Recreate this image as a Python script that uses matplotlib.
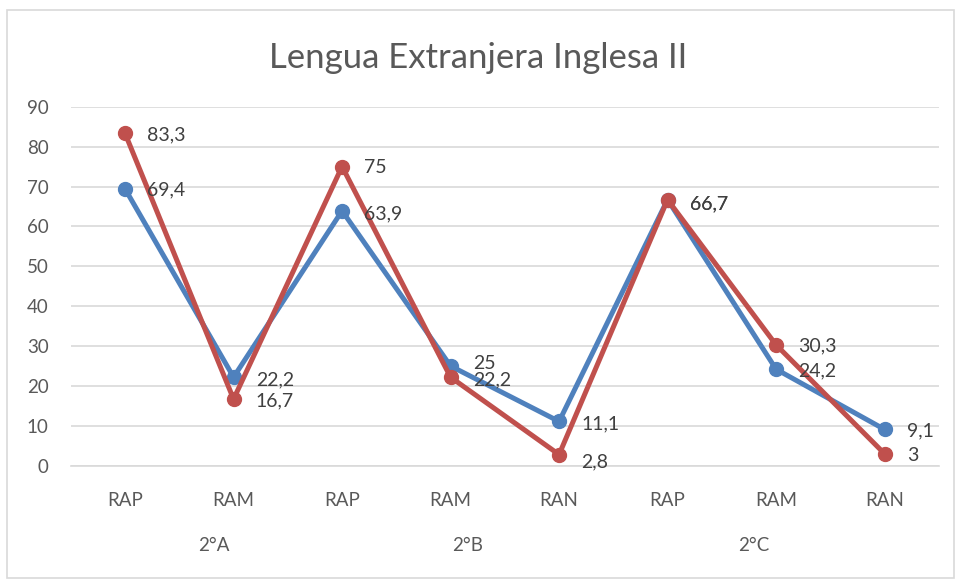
import matplotlib
matplotlib.use("Agg")
import matplotlib.pyplot as plt
from matplotlib.patches import Rectangle
import matplotlib.transforms as mtransforms

# chart data
categories = ["RAP", "RAM", "RAP", "RAM", "RAN", "RAP", "RAM", "RAN"]
groups = ["2°A", "2°B", "2°C"]
serieBlue = [69.4, 22.2, 63.9, 25, 11.1, 66.7, 24.2, 9.1]
serieRed = [83.3, 16.7, 75, 22.2, 2.8, 66.7, 30.3, 3]
yTicks = [0, 10, 20, 30, 40, 50, 60, 70, 80, 90]

plt.rcParams['font.family'] = ['Lato', 'DejaVu Sans']

fig = plt.figure(figsize=(9.57, 5.8), dpi=100)
ax = fig.add_axes([0.074, 0.197, 0.907, 0.619])

# border round the whole chart
fig.patches.append(Rectangle((0.007, 0.003), 0.99, 0.98, transform=fig.transFigure,
                             fill=False, edgecolor="#D9D9D9", linewidth=1.2))

xs = list(range(len(categories)))
ax.plot(xs, serieBlue, color="#4F81BD", linewidth=3.6, marker="o", markersize=10, zorder=3)
ax.plot(xs, serieRed, color="#C0504D", linewidth=3.6, marker="o", markersize=10, zorder=4)

def fmt(v):
    return ("%g" % v).replace(".", ",")

# label offsets (points), nudged where labels collide
blueOff = [(16, -1), (16, -2), (16, -2), (16, 2), (16, -2), (16, -3), (16, -1), (16, -1)]
redOff = [(16, -1), (16, -1), (16, -1), (16, -2), (16, -5), (16, -3), (16, -1), (16, -1)]
for x, v, off in zip(xs, serieBlue, blueOff):
    ax.annotate(fmt(v), (x, v), xytext=off, textcoords="offset points",
                ha="left", va="center", fontsize=14, color="#404040", zorder=5)
for x, v, off in zip(xs, serieRed, redOff):
    ax.annotate(fmt(v), (x, v), xytext=off, textcoords="offset points",
                ha="left", va="center", fontsize=14, color="#404040", zorder=5)

ax.set_xlim(-0.5, 7.5)
ax.set_ylim(0, 90)
ax.set_yticks(yTicks)
ax.set_xticks(xs)
ax.set_xticklabels(categories)
ax.tick_params(axis="both", length=0, labelsize=13.5, labelcolor="#595959")
ax.tick_params(axis="y", pad=16)
ax.tick_params(axis="x", pad=19)
ax.grid(axis="y", color="#D9D9D9", linewidth=1.2)
ax.set_axisbelow(True)
for s in ["top", "right", "left"]:
    ax.spines[s].set_visible(False)
ax.spines["bottom"].set_color("#D9D9D9")
ax.spines["bottom"].set_linewidth(1.2)

# group labels under the categories
trans = mtransforms.blended_transform_factory(ax.transData, fig.transFigure)
for gx, g in zip([0.82, 3.16, 5.79], groups):
    ax.text(gx, 0.06, g, transform=trans, ha="center", va="center",
            fontsize=13.5, color="#595959")

fig.text(0.5, 0.9, "Lengua Extranjera Inglesa II", ha="center", va="center",
         fontsize=25, color="#595959")

plt.savefig("out.png", dpi=100)
plt.close()
